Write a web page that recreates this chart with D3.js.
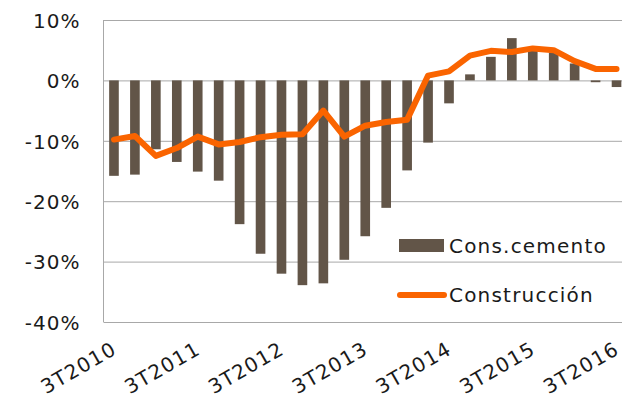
<!DOCTYPE html>
<html>
<head>
<meta charset="utf-8">
<script src="https://cdn.jsdelivr.net/npm/d3@7.9.0/dist/d3.min.js"></script>
<style>
  body { margin: 0; background: #fff; }
  svg text { font-family: "DejaVu Sans", sans-serif; fill: #1a1a1a; }
</style>
</head>
<body>
<svg width="622" height="401"></svg>
<script>
const quarters = [
  '3T2010', '4T2010', '1T2011', '2T2011', '3T2011', '4T2011', '1T2012', '2T2012',
  '3T2012', '4T2012', '1T2013', '2T2013', '3T2013', '4T2013', '1T2014', '2T2014',
  '3T2014', '4T2014', '1T2015', '2T2015', '3T2015', '4T2015', '1T2016', '2T2016', '3T2016'
];
// consumo de cemento, variación interanual
const cemento = [
  -0.158, -0.156, -0.114, -0.135, -0.151, -0.166, -0.238, -0.287,
  -0.320, -0.339, -0.336, -0.297, -0.258, -0.211, -0.149, -0.103,
  -0.038, 0.010, 0.039, 0.070, 0.050, 0.046, 0.028, -0.003, -0.011
];
// construcción
const construccion = [
  -0.098, -0.092, -0.125, -0.112, -0.093, -0.106, -0.102, -0.094,
  -0.090, -0.089, -0.050, -0.093, -0.075, -0.069, -0.065, 0.008,
  0.015, 0.041, 0.049, 0.047, 0.053, 0.050, 0.032, 0.019, 0.019
];
const yTicks = [0.1, 0, -0.1, -0.2, -0.3, -0.4];
const xLabels = ['3T2010', '3T2011', '3T2012', '3T2013', '3T2014', '3T2015', '3T2016'];

const svg = d3.select('svg');
// the plot runs a little past the right edge of the picture
const plotLeft = 103.5, plotRight = 627, plotTop = 20, plotBottom = 322;

const x = d3.scaleBand().domain(quarters).range([plotLeft, plotRight]).paddingInner(0.54).paddingOuter(0.27);
const y = d3.scaleLinear().domain([-0.4, 0.1]).range([plotBottom, plotTop]);

const pct = d3.formatLocale({ decimal: ',', thousands: '.', grouping: [3], currency: ['', '€'], minus: '-', percent: '%' }).format('.0%');

// gridlines
svg.append('g')
  .attr('transform', `translate(${plotLeft},0)`)
  .call(d3.axisLeft(y).tickValues(yTicks).tickSize(-(plotRight - plotLeft)).tickFormat(''))
  .call(g => g.select('.domain').remove())
  .call(g => g.selectAll('line').attr('stroke', '#a8a8a8').attr('stroke-width', 1));

svg.append('line')
  .attr('x1', plotLeft).attr('x2', plotLeft).attr('y1', plotTop).attr('y2', plotBottom)
  .attr('stroke', '#a8a8a8');

// y labels
svg.append('g')
  .attr('transform', `translate(${plotLeft - 23},0)`)
  .call(d3.axisLeft(y).tickValues(yTicks).tickSize(0).tickFormat(pct))
  .call(g => g.select('.domain').remove())
  .call(g => g.selectAll('text')
    .attr('x', 0).attr('dy', '0.36em')
    .style('font-size', '20px').style('letter-spacing', '1px').attr('fill', '#1a1a1a'));

// bars
svg.append('g').selectAll('rect')
  .data(cemento)
  .join('rect')
  .attr('x', (d, i) => x(quarters[i]))
  .attr('width', x.bandwidth())
  .attr('y', d => y(Math.max(0, d)))
  .attr('height', d => Math.abs(y(d) - y(0)))
  .attr('fill', '#625548');

// line
const line = d3.line()
  .x((d, i) => x(quarters[i]) + x.bandwidth() / 2)
  .y(d => y(d));

svg.append('path')
  .datum(construccion)
  .attr('d', line)
  .attr('fill', 'none')
  .attr('stroke', '#fa6400')
  .attr('stroke-width', 6)
  .attr('stroke-linejoin', 'round')
  .attr('stroke-linecap', 'round');

// x labels
svg.append('g')
  .selectAll('text')
  .data(xLabels)
  .join('text')
  .attr('transform', d => `translate(${x(d) + x.bandwidth() / 2 + 4},${plotBottom + 31}) rotate(-30)`)
  .attr('text-anchor', 'end')
  .style('font-size', '20px')
  .style('letter-spacing', '1.2px')
  .text(d => d);

// legend
const legend = svg.append('g');
legend.append('rect')
  .attr('x', 399).attr('y', 239).attr('width', 45).attr('height', 13)
  .attr('fill', '#625548');
legend.append('text')
  .attr('x', 449).attr('y', 253)
  .style('font-size', '20px').style('letter-spacing', '1.2px')
  .text('Cons.cemento');
legend.append('line')
  .attr('x1', 400).attr('x2', 444).attr('y1', 295).attr('y2', 295)
  .attr('stroke', '#fa6400').attr('stroke-width', 6).attr('stroke-linecap', 'round');
legend.append('text')
  .attr('x', 449).attr('y', 302)
  .style('font-size', '20px').style('letter-spacing', '1.2px')
  .text('Construcción');
</script>
</body>
</html>
